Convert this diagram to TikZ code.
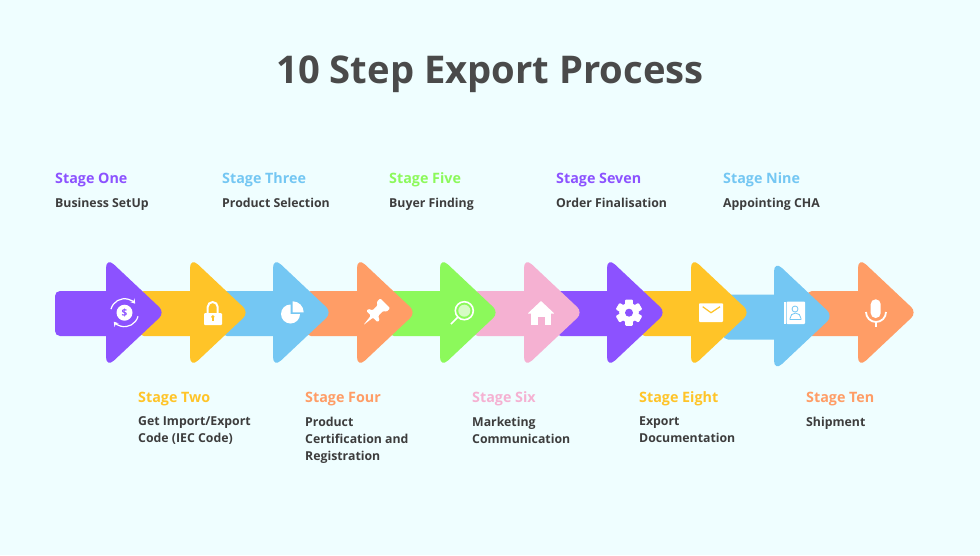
\documentclass[tikz,border=0pt]{standalone}
\usepackage{fontspec}
\setmainfont{Open Sans}
\usetikzlibrary{positioning,arrows.meta}
\definecolor{pagebg}{HTML}{EFFEFF}
\definecolor{titlegray}{HTML}{4A4A4A}
\definecolor{textgray}{HTML}{3D3D3D}
\definecolor{stpurple}{HTML}{8C52FF}
\definecolor{styellow}{HTML}{FFC428}
\definecolor{stblue}{HTML}{74C7F3}
\definecolor{storange}{HTML}{FF9D66}
\definecolor{stgreen}{HTML}{8CF95B}
\definecolor{stpink}{HTML}{F5B1D2}
\tikzset{
	stagehead/.style={anchor=base west,inner sep=0pt,font=\fontsize{14.3}{17}\selectfont\bfseries},
	stagetext/.style={inner sep=0pt,align=left,text=textgray,font=\fontsize{12.3}{17}\selectfont\bfseries,execute at begin node={\rule{0pt}{11pt}}},
	icon/.style={fill=white,draw=none},
	iconline/.style={draw=white,line width=1.6pt,fill=none}
}
% one arrow: x of the head base, y of the axis, colour
\newcommand{\stagearrow}[3]{
	\fill[#3,rounded corners=5pt] (#1-51,#2-21.5) rectangle (#1+8,#2+23.5);
	\fill[#3] (#1,#2) [rounded corners=11pt] -- (#1,#2-55.5) -- (#1+29.5,#2-27.75) [rounded corners=8pt] -- (#1+59,#2) -- (#1+29.5,#2+27.75) [rounded corners=11pt] -- (#1,#2+55.5) -- cycle;
}
\begin{document}
\begin{tikzpicture}[x=1pt,y=-1pt]
	\fill[pagebg] (0,0) rectangle (980,555);
	\useasboundingbox (0,0) rectangle (980,555);

	\node[inner sep=0pt,text=titlegray,font=\fontsize{38.2}{44}\selectfont\bfseries] (title) at (490,74.5) {10 Step Export Process};

	% later arrows lie under earlier ones
	\foreach \headx/\axisy/\col in {858/312.5/storange,774/316/stblue,691/312.5/styellow,607/312.5/stpurple,524/312.5/stpink,440/312.5/stgreen,357/312.5/storange,273/312.5/stblue,190/312.5/styellow,106/312.5/stpurple}
		\stagearrow{\headx}{\axisy}{\col};

	% stage labels above
	\foreach \id/\posx/\col/\head/\body in {one/55/stpurple/Stage One/Business SetUp,three/222/stblue/Stage Three/Product Selection,five/389/stgreen/Stage Five/Buyer Finding,seven/556/stpurple/Stage Seven/Order Finalisation,nine/723/stblue/Stage Nine/Appointing CHA}{
		\node[stagehead,text=\col] (head\id) at (\posx,183) {\head};
		\node[stagetext,below right=14.7pt and 0pt of head\id.base west] (body\id) {\body\\};
	}
	% stage labels below
	\foreach \id/\posx/\col/\head/\body in {two/138/styellow/Stage Two/{Get Import/Export\\Code (IEC Code)},four/305/storange/Stage Four/{Product\\Certification and\\Registration},six/472/stpink/Stage Six/{Marketing\\Communication},eight/639/styellow/Stage Eight/{Export\\Documentation},ten/806/storange/Stage Ten/Shipment}{
		\node[stagehead,text=\col] (head\id) at (\posx,402) {\head};
		\node[stagetext,below right=14.7pt and 0pt of head\id.base west] (body\id) {\body\\};
	}

	% icon one
	\draw[draw=white,line width=1.2pt,-{Stealth[length=4.5pt,width=5.5pt]}] (111,309.1) arc[start angle=195,end angle=320,radius=14];
	\draw[draw=white,line width=1.2pt,-{Stealth[length=4.5pt,width=5.5pt]}] (138,316.3) arc[start angle=15,end angle=140,radius=14];
	\fill[icon] (124.5,312.7) circle[radius=8];
	\node[inner sep=0pt,text=stpurple,font=\fontsize{10}{12}\selectfont\bfseries] (dollar) at (124.5,312.7) {\$};

	% icon two
	\draw[iconline,line width=2pt] (207.7,314) -- (207.7,307) arc[start angle=180,end angle=360,radius=5] -- (217.7,314);
	\fill[icon,rounded corners=1pt] (204,313) rectangle (222,325);
	\fill[styellow] (212.8,316.8) circle[radius=1.8];
	\fill[styellow] (212,317) rectangle (213.6,321);

	% icon three
	\fill[icon] (290.5,314) -- +(9.5,0) arc[start angle=0,end angle=270,radius=9.5] -- cycle;
	\fill[icon] (292.7,312.3) -- +(0,-11) arc[start angle=270,end angle=360,radius=11] -- cycle;

	% icon four
	\begin{scope}[shift={(363.5,325)},x={(0.7pt,0.7pt)},y={(0.7pt,-0.7pt)}]
		\fill[icon,rounded corners=1pt] (0,0) -- (12,1.5) -- (12,8) -- (15,8) -- (17,4) -- (24,4) -- (26,7) -- (31,7) -- (31,-7) -- (26,-7) -- (24,-4) -- (17,-4) -- (15,-8) -- (12,-8) -- (12,-1.5) -- cycle;
	\end{scope}

	% icon five
	\fill[white,opacity=.65] (464.3,310.7) circle[radius=6];
	\draw[iconline] (464.3,310.7) circle[radius=9];
	\draw[iconline,line width=1.5pt] (457.8,317.2) -- (451,324);

	% icon six
	\fill[icon,rounded corners=.5pt] (541,301) -- (554.3,313.5) -- (527.7,313.5) -- cycle;
	\fill[icon] (531,312) rectangle (551,325);
	\fill[stpink] (537.5,317) rectangle (544.5,325);

	% icon seven
	\foreach \ang in {0,60,...,300}
		\fill[icon,rotate around={\ang:(629,312.7)},rounded corners=1pt] (625.2,299.5) rectangle (632.8,306);
	\fill[icon] (629,312.7) circle[radius=9.8];
	\fill[stpurple] (629,312.7) circle[radius=4];

	% icon eight
	\fill[icon,rounded corners=.8pt] (699,303.3) rectangle (723,322);
	\draw[styellow,line width=1.2pt] (702.7,306.7) -- (711,312.7) -- (720,306.7);

	% icon nine
	\fill[icon] (784,301.7) rectangle (785.5,324);
	\fill[icon,rounded corners=.8pt] (786.5,301.7) rectangle (805,324);
	\draw[stblue,line width=.8pt] (795,309) circle[radius=3];
	\draw[stblue,line width=.8pt] (790,319.5) -- (790,318.5) arc[start angle=180,end angle=360,radius=5.5] -- (801,319.5) -- cycle;

	% icon ten
	\fill[icon,rounded corners=4.9pt] (870.7,299.3) rectangle (880.7,318);
	\draw[iconline,line width=1.8pt] (866,312) arc[start angle=180,end angle=0,radius=10];
	\draw[iconline,line width=1.8pt] (876,322) -- (876,326.5);
\end{tikzpicture}
\end{document}
